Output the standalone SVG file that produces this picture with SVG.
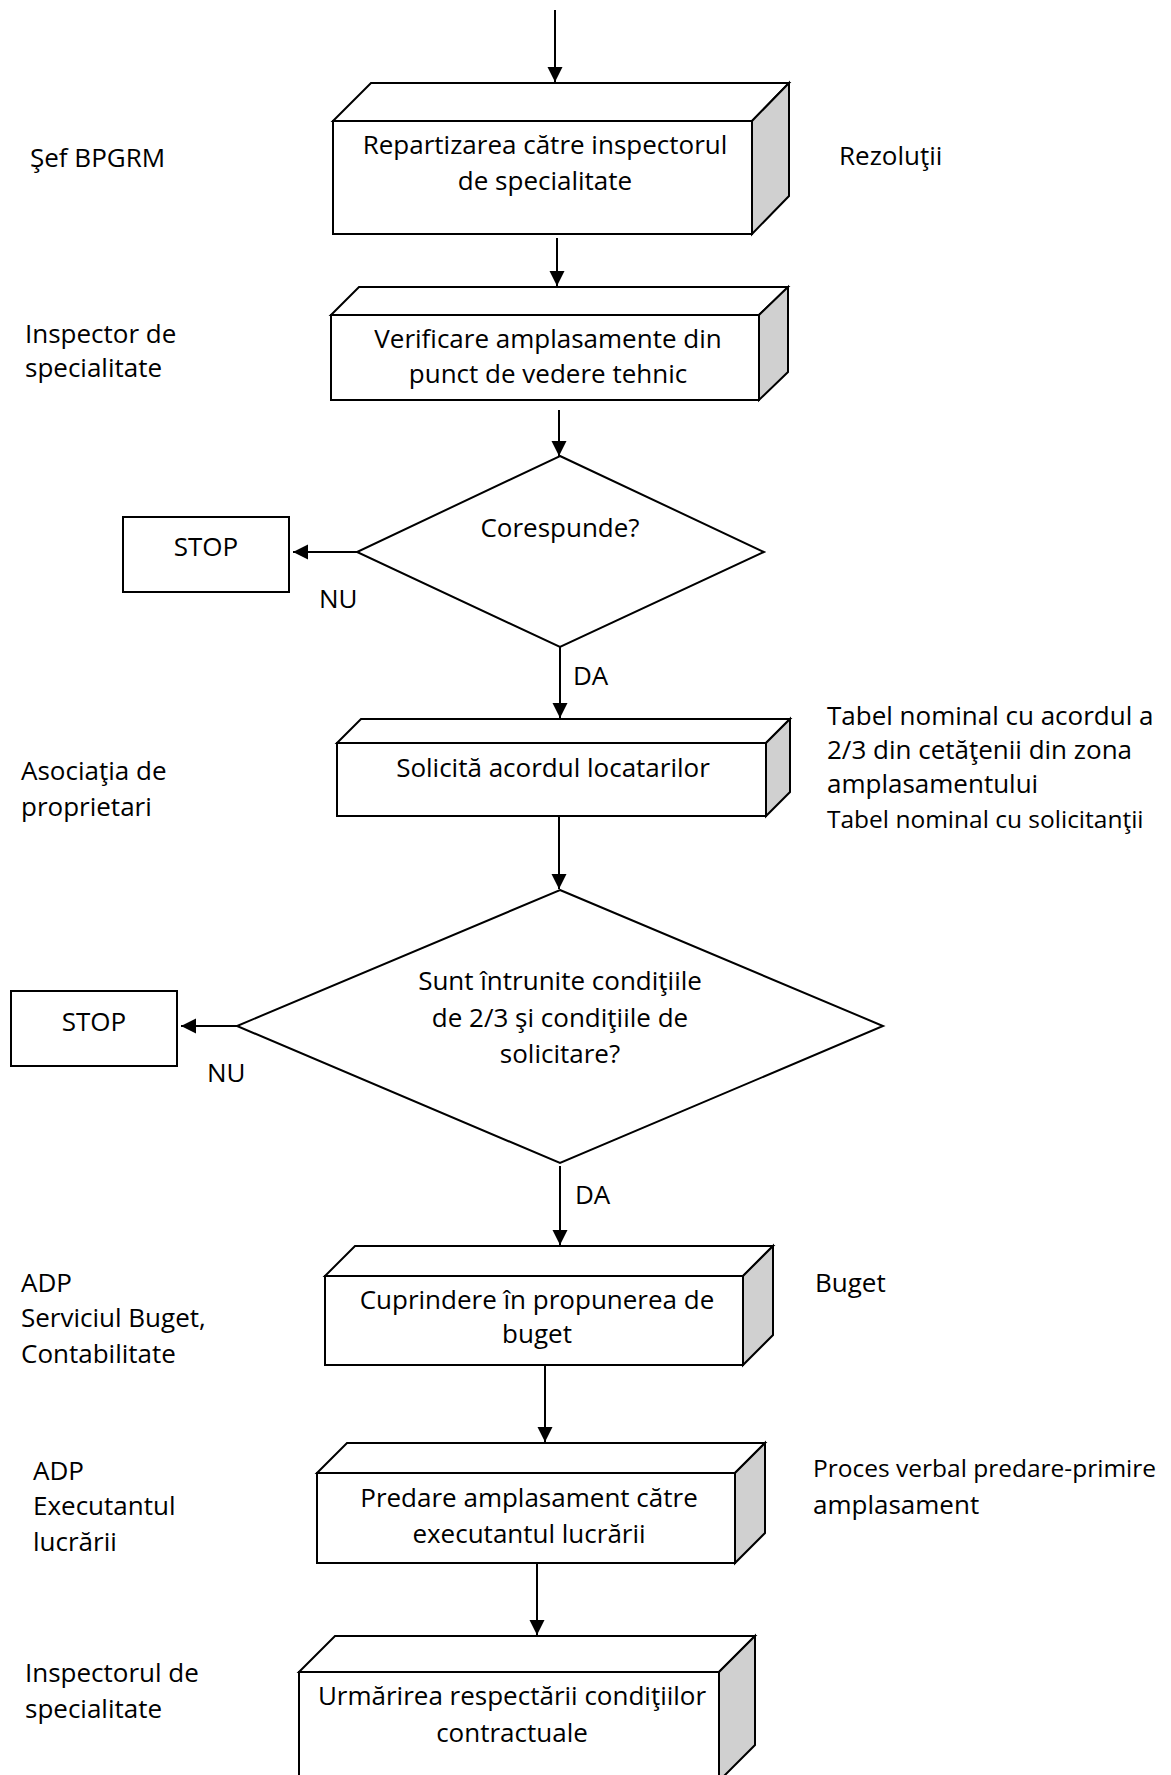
<svg xmlns="http://www.w3.org/2000/svg" width="1171" height="1775" viewBox="0 0 1171 1775">
<defs>
<marker id="ah" markerUnits="userSpaceOnUse" markerWidth="16" markerHeight="16" refX="15" refY="7.5" orient="auto">
<path d="M0,0 L15,7.5 L0,15 z" fill="#000"/>
</marker>
<style>
.t{font-family:"Open Sans","Liberation Sans",sans-serif;font-size:26px;fill:#000}
.c{text-anchor:middle}
.sm{font-size:24.5px}
.f{fill:#fff;stroke:#000;stroke-width:2}
.s{fill:#d0d0d0;stroke:#000;stroke-width:2}
.ln{fill:none;stroke:#000;stroke-width:2;marker-end:url(#ah)}
</style>
</defs>
<rect width="1171" height="1775" fill="#fff"/>

<g id="box1">
<polygon class="f" points="333,121 371,83 789,83 752,121"/>
<polygon class="s" points="752,121 789,83 789,196 752,234"/>
<rect class="f" x="333" y="121" width="419" height="113"/>
<text class="t c" x="545" y="154">Repartizarea către inspectorul</text>
<text class="t c" x="545" y="190">de specialitate</text>
</g>

<g id="box2">
<polygon class="f" points="331,315 359,287 788,287 759,315"/>
<polygon class="s" points="759,315 788,287 788,372 759,400"/>
<rect class="f" x="331" y="315" width="428" height="85"/>
<text class="t c" x="548" y="348">Verificare amplasamente din</text>
<text class="t c" x="548" y="383">punct de vedere tehnic</text>
</g>

<g id="decision1">
<polygon class="f" points="560,456 764,552 560,647 357,552"/>
<text class="t c" x="560" y="537">Corespunde?</text>
</g>

<g id="stop1">
<rect class="f" x="123" y="517" width="166" height="75"/>
<text class="t c" x="206" y="556">STOP</text>
</g>

<g id="box3">
<polygon class="f" points="337,743 361,719 790,719 766,743"/>
<polygon class="s" points="766,743 790,719 790,792 766,816"/>
<rect class="f" x="337" y="743" width="429" height="73"/>
<text class="t c" x="553" y="777">Solicită acordul locatarilor</text>
</g>

<g id="decision2">
<polygon class="f" points="560,890 883,1026 560,1163 237,1026"/>
<text class="t c" x="560" y="990">Sunt întrunite condiţiile</text>
<text class="t c" x="560" y="1027">de 2/3 şi condiţiile de</text>
<text class="t c" x="560" y="1063">solicitare?</text>
</g>

<g id="stop2">
<rect class="f" x="11" y="991" width="166" height="75"/>
<text class="t c" x="94" y="1031">STOP</text>
</g>

<g id="box4">
<polygon class="f" points="325,1276 355,1246 773,1246 743,1276"/>
<polygon class="s" points="743,1276 773,1246 773,1335 743,1365"/>
<rect class="f" x="325" y="1276" width="418" height="89"/>
<text class="t c" x="537" y="1309">Cuprindere în propunerea de</text>
<text class="t c" x="537" y="1343">buget</text>
</g>

<g id="box5">
<polygon class="f" points="317,1473 347,1443 765,1443 735,1473"/>
<polygon class="s" points="735,1473 765,1443 765,1533 735,1563"/>
<rect class="f" x="317" y="1473" width="418" height="90"/>
<text class="t c" x="529" y="1507">Predare amplasament către</text>
<text class="t c" x="529" y="1543">executantul lucrării</text>
</g>

<g id="box6">
<polygon class="f" points="299,1672 335,1636 755,1636 719,1672"/>
<polygon class="s" points="719,1672 755,1636 755,1745 719,1781"/>
<rect class="f" x="299" y="1672" width="420" height="109"/>
<text class="t c" x="512" y="1705">Urmărirea respectării condiţiilor</text>
<text class="t c" x="512" y="1742">contractuale</text>
</g>

<g id="lanes-left">
<text class="t" x="30" y="167">Şef BPGRM</text>
<text class="t" x="25" y="343">Inspector de</text>
<text class="t" x="25" y="377">specialitate</text>
<text class="t" x="21" y="780">Asociaţia de</text>
<text class="t" x="21" y="816">proprietari</text>
<text class="t" x="21" y="1292">ADP</text>
<text class="t" x="21" y="1327">Serviciul Buget,</text>
<text class="t" x="21" y="1363">Contabilitate</text>
<text class="t" x="33" y="1480">ADP</text>
<text class="t" x="33" y="1515">Executantul</text>
<text class="t" x="33" y="1551">lucrării</text>
<text class="t" x="25" y="1682">Inspectorul de</text>
<text class="t" x="25" y="1718">specialitate</text>
</g>

<g id="docs-right">
<text class="t" x="839" y="165">Rezoluţii</text>
<text class="t" x="827" y="725">Tabel nominal cu acordul a</text>
<text class="t" x="827" y="759">2/3 din cetăţenii  din zona</text>
<text class="t" x="827" y="793">amplasamentului</text>
<text class="t sm" x="827" y="828">Tabel nominal cu solicitanţii</text>
<text class="t" x="815" y="1292">Buget</text>
<text class="t sm" x="813" y="1477">Proces verbal predare-primire</text>
<text class="t" x="813" y="1514">amplasament</text>
</g>

<g id="connectors">
<line class="ln" x1="555" y1="10" x2="555" y2="82"/>
<line class="ln" x1="557" y1="238" x2="557" y2="286"/>
<line class="ln" x1="559" y1="410" x2="559" y2="456"/>
<line class="ln" x1="357" y1="552" x2="293" y2="552"/>
<line class="ln" x1="560" y1="647" x2="560" y2="718"/>
<line class="ln" x1="559" y1="816" x2="559" y2="889"/>
<line class="ln" x1="237" y1="1026" x2="181" y2="1026"/>
<line class="ln" x1="560" y1="1166" x2="560" y2="1245"/>
<line class="ln" x1="545" y1="1365" x2="545" y2="1442"/>
<line class="ln" x1="537" y1="1563" x2="537" y2="1635"/>
<text class="t" x="319" y="608">NU</text>
<text class="t" x="573" y="685">DA</text>
<text class="t" x="207" y="1082">NU</text>
<text class="t" x="575" y="1204">DA</text>
</g>
</svg>
